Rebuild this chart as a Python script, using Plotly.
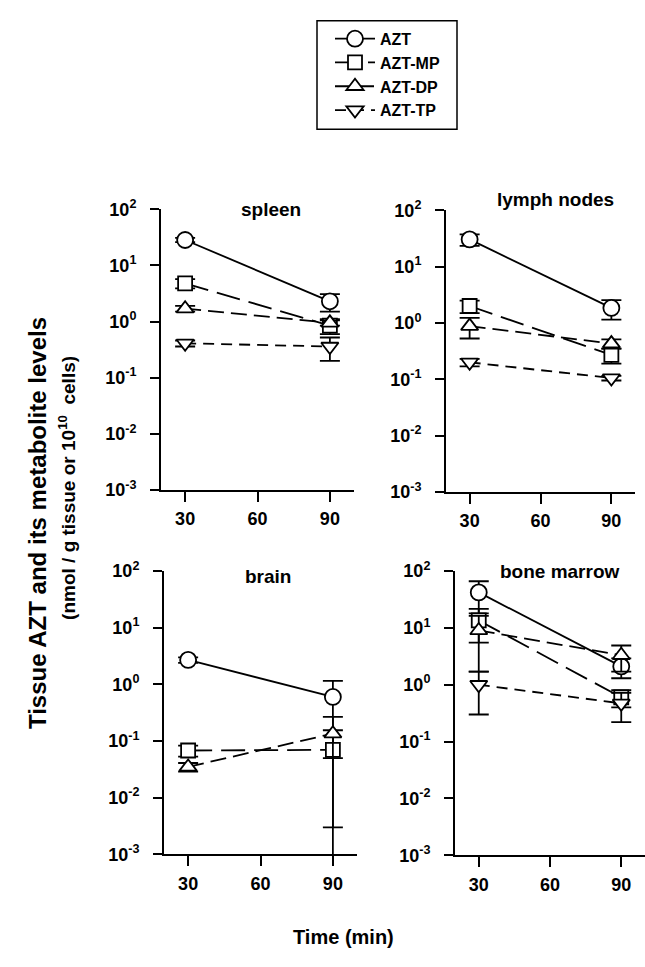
import plotly.graph_objects as go

W, H = 645, 967

# ---------------- data ----------------
times = [30, 90]
organs = ["spleen", "lymph nodes", "brain", "bone marrow"]
series_names = ["AZT", "AZT-MP", "AZT-DP", "AZT-TP"]

# each row: organ (spleen, lymph nodes, brain, bone marrow); values at [30, 90] min
azt = [[28.5, 2.3], [30.5, 1.85], [2.7, 0.6], [42.0, 2.1]]
azt_sd = [[2.5, 0.8], [7.0, 0.7], [0.3, 0.55], [24.0, 0.8]]
azt_mp = [[4.8, 0.85], [2.0, 0.27], [0.068, 0.07], [13.5, 0.6]]
azt_mp_sd = [[0.9, 0.25], [0.5, 0.08], [0.015, 0.085], [8.0, 0.2]]
azt_dp = [[1.7, 0.95], [0.88, 0.43], [0.035, 0.135], [9.0, 3.3]]
azt_dp_sd = [[0.2, 0.1], [0.35, 0.08], [0.006, 0.132], [7.3, 1.6]]
azt_tp = [[0.41, 0.36], [0.2, 0.105], [None, None], [1.0, 0.47]]
azt_tp_sd = [[0.05, 0.16], [0.03, 0.01], [None, None], [0.7, 0.25]]

x_tick_vals = [30, 60, 90]
y_tick_vals = [1e-3, 1e-2, 1e-1, 1, 10, 100]
y_tick_text = ["10<sup>-3</sup>", "10<sup>-2</sup>", "10<sup>-1</sup>",
               "10<sup>0</sup>", "10<sup>1</sup>", "10<sup>2</sup>"]

# ---------------- styles / layout ----------------
means = [azt, azt_mp, azt_dp, azt_tp]
sds = [azt_sd, azt_mp_sd, azt_dp_sd, azt_tp_sd]
symbols = ["circle", "square", "triangle-up", "triangle-down"]
msizes = [16, 14, 15, 15]
dashes = ["solid", "24px,9px", "16px,7px", "11px,7px"]

# panel boxes in pixels: (left, right, top, bottom)
panels_px = [(161, 354, 202, 489), (446, 635, 203, 491),
             (164, 357, 572, 862), (455, 645, 572, 863)]
title_px = [(271, 202), (555, 192), (268, 578), (560, 573)]

FONT = "Liberation Sans, Arial, sans-serif"

fig = go.Figure()

for i, organ in enumerate(organs):
    xa = "x" if i == 0 else f"x{i+1}"
    ya = "y" if i == 0 else f"y{i+1}"
    for s, name in enumerate(series_names):
        fig.add_trace(go.Scatter(
            x=times, y=means[s][i],
            error_y=dict(type="data", array=sds[s][i], visible=True,
                         color="black", thickness=1.8, width=10),
            mode="lines+markers",
            line=dict(color="black", width=1.8, dash=dashes[s]),
            marker=dict(symbol=symbols[s], size=msizes[s], color="white",
                        line=dict(color="black", width=1.8)),
            name=name, showlegend=(i == 0),
            xaxis=xa, yaxis=ya,
        ))

layout = dict(
    width=W, height=H,
    margin=dict(l=0, r=0, t=0, b=0),
    paper_bgcolor="white", plot_bgcolor="white",
    font=dict(family=FONT, color="black", size=18, weight=700),
    showlegend=True,
    legend=dict(x=330 / W, y=1 - 10 / H, xanchor="left", yanchor="top",
                bgcolor="rgba(0,0,0,0)", borderwidth=0, itemwidth=40,
                font=dict(size=16, family=FONT, weight=700)),
)

annotations = []
for i, (l, r, t, b) in enumerate(panels_px):
    xk = "xaxis" if i == 0 else f"xaxis{i+1}"
    yk = "yaxis" if i == 0 else f"yaxis{i+1}"
    ya = "y" if i == 0 else f"y{i+1}"
    xa = "x" if i == 0 else f"x{i+1}"
    layout[xk] = dict(domain=[l / W, r / W], range=[20, 100], anchor=ya,
                      tickvals=x_tick_vals, ticks="outside", ticklen=10,
                      tickwidth=2, showline=True, linewidth=2, linecolor="black",
                      showgrid=False, zeroline=False, tickcolor="black",
                      ticklabelstandoff=2,
                      tickfont=dict(size=18, family=FONT, weight=700))
    layout[yk] = dict(domain=[1 - b / H, 1 - t / H], type="log", range=[-3, 2],
                      anchor=xa, tickvals=y_tick_vals, ticktext=y_tick_text,
                      ticks="outside", ticklen=9, tickwidth=2, showline=True,
                      linewidth=2, linecolor="black", showgrid=False,
                      zeroline=False, tickcolor="black", ticklabelstandoff=10,
                      tickfont=dict(size=18, family=FONT, weight=700))
    tx, ty = title_px[i]
    annotations.append(dict(text=organs[i], x=tx / W, y=1 - ty / H,
                            xref="paper", yref="paper", showarrow=False,
                            xanchor="center", yanchor="middle",
                            font=dict(size=19, family=FONT, weight=700)))

annotations.append(dict(text="Tissue AZT and its metabolite levels",
                        x=37 / W, y=1 - 523 / H, xref="paper", yref="paper",
                        showarrow=False, textangle=-90, xanchor="center",
                        yanchor="middle",
                        font=dict(size=24, family=FONT, weight=700)))
annotations.append(dict(text="(nmol / g tissue or 10<sup>10</sup>  cells)",
                        x=67 / W, y=1 - 487 / H, xref="paper", yref="paper",
                        showarrow=False, textangle=-90, xanchor="center",
                        yanchor="middle",
                        font=dict(size=19, family=FONT, weight=700)))
annotations.append(dict(text="Time (min)", x=343 / W, y=1 - 947 / H,
                        xref="paper", yref="paper", showarrow=False,
                        xanchor="center", yanchor="middle",
                        font=dict(size=20, family=FONT, weight=700)))
layout["annotations"] = annotations

layout["shapes"] = [dict(type="rect", xref="paper", yref="paper",
                         x0=317 / W, x1=457 / W, y0=1 - 120 / H, y1=1 - 9 / H,
                         line=dict(color="black", width=1.5))]

fig.update_layout(**layout)
fig.write_html("out.html")
